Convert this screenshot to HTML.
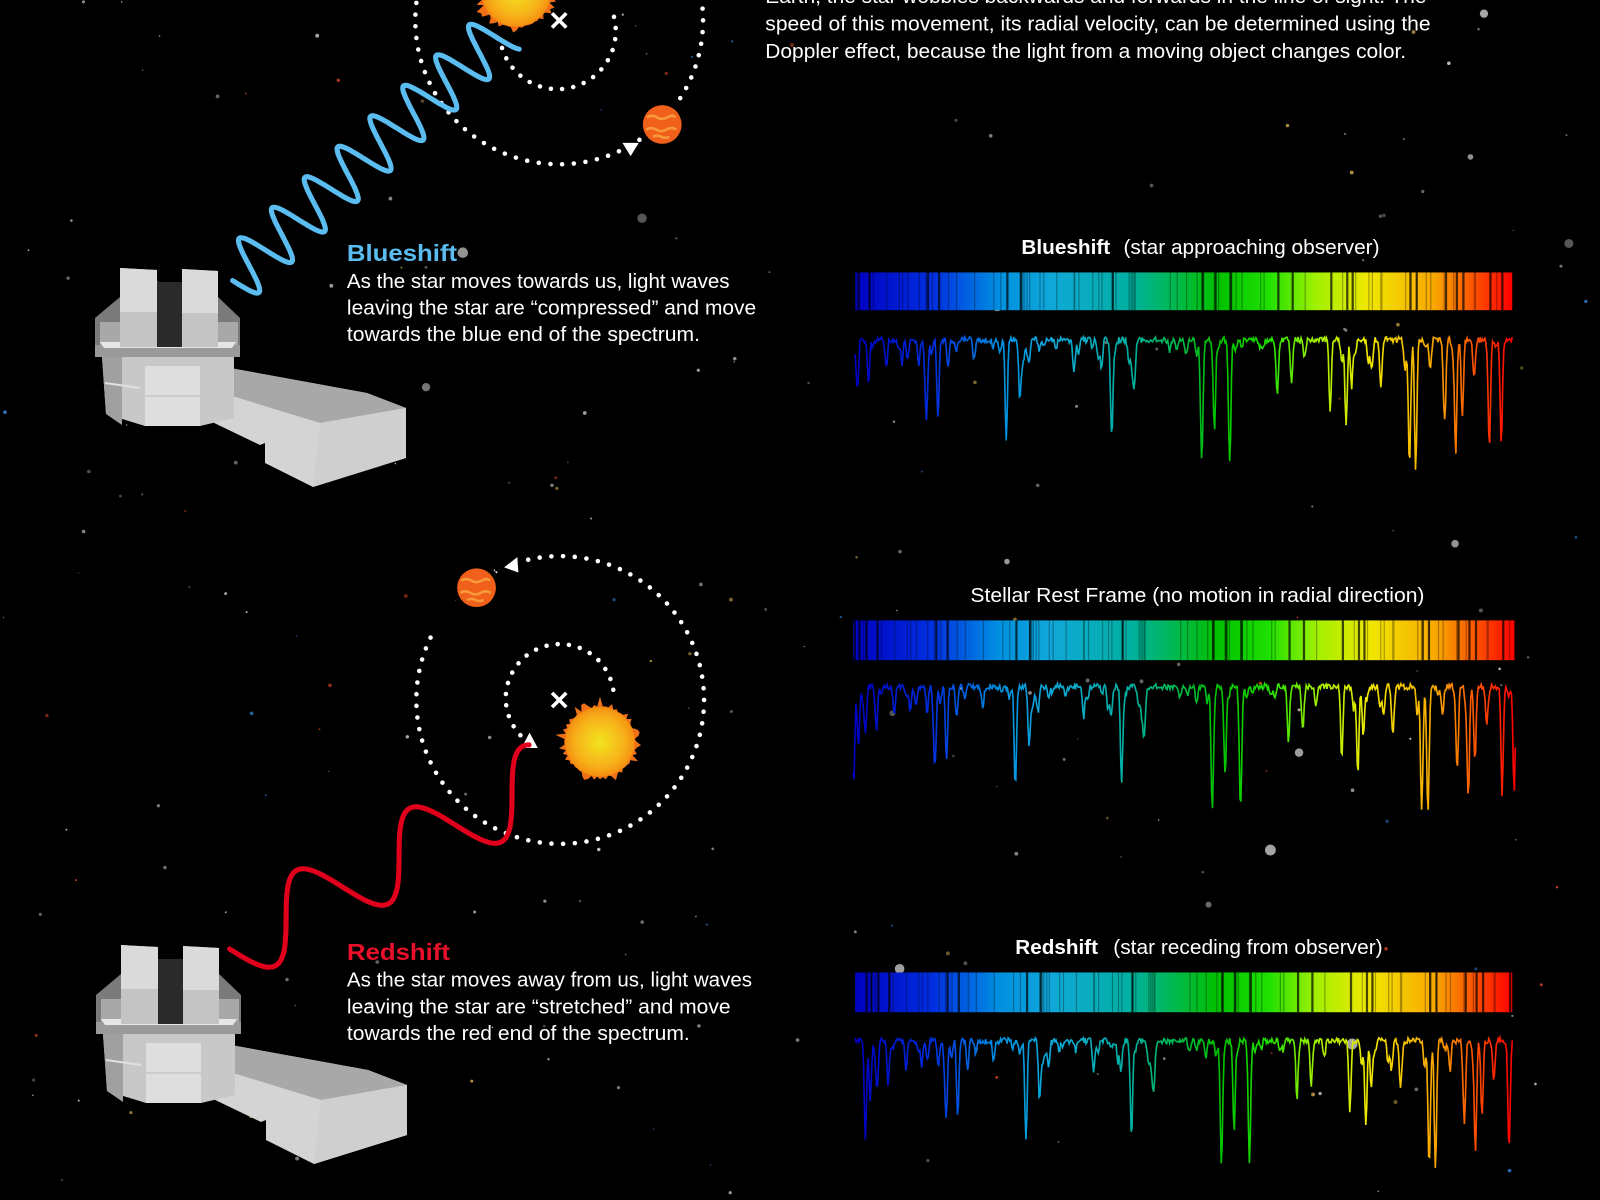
<!DOCTYPE html>
<html><head><meta charset="utf-8"><style>
html,body{margin:0;padding:0;background:#000;}
svg{display:block}
text{font-family:"Liberation Sans",sans-serif;fill:#fff}
</style></head><body>
<svg id="s" width="1600" height="1200" viewBox="0 0 1600 1200" xmlns="http://www.w3.org/2000/svg">
<defs>
<linearGradient id="spec" x1="0" x2="1" y1="0" y2="0">
<stop offset="0" stop-color="#0000c0"/><stop offset="0.12" stop-color="#0030e0"/><stop offset="0.22" stop-color="#0090e0"/><stop offset="0.3" stop-color="#10a8d8"/><stop offset="0.42" stop-color="#00b0a0"/><stop offset="0.55" stop-color="#00c000"/><stop offset="0.63" stop-color="#20e000"/><stop offset="0.7" stop-color="#a0f000"/><stop offset="0.78" stop-color="#f0e800"/><stop offset="0.88" stop-color="#f8a800"/><stop offset="1" stop-color="#ff0000"/>
</linearGradient>
<radialGradient id="sun" cx="0.5" cy="0.5" r="0.5">
<stop offset="0" stop-color="#f2e41e"/><stop offset="0.7" stop-color="#f7b21a"/><stop offset="1" stop-color="#f59010"/>
</radialGradient>
</defs>
<rect width="1600" height="1200" fill="#000"/>
<g id="stars"></g>
<g id="main" transform="scale(1.0204)">
<text font-size="20" textLength="648" lengthAdjust="spacingAndGlyphs" x="750" y="3">Earth, the star wobbles backwards and forwards in the line of sight. The</text>
<text font-size="20" textLength="652" lengthAdjust="spacingAndGlyphs" x="750" y="30">speed of this movement, its radial velocity, can be determined using the</text>
<text font-size="20" textLength="628" lengthAdjust="spacingAndGlyphs" x="750" y="57">Doppler effect, because the light from a moving object changes color.</text>

<circle cx="548" cy="20" r="141" fill="none" stroke="#fff" stroke-width="4.5" stroke-linecap="round" stroke-dasharray="0 11.5"/>
<path d="M492 47 A53 53 0 0 0 601 14" fill="none" stroke="#fff" stroke-width="4.5" stroke-linecap="round" stroke-dasharray="0 11"/>
<g id="sun1"></g>
<path d="M541 13 L555 27 M555 13 L541 27" stroke="#fff" stroke-width="3.5"/>
<circle cx="649" cy="122" r="23" fill="#000"/>
<polygon points="610,140 626,140 618,153" fill="#fff"/>
<circle cx="649" cy="122" r="19" fill="#f0601a"/>
<path d="M634 115 q5 -3 10 0 t10 0 t8 0 M633 127 q5 -3 10 0 t10 0 t10 0 M640 134 q4 -2 8 0 t8 0" stroke="#f79a3a" stroke-width="2.5" fill="none"/>
<path id="bwave" fill="none" stroke="#5bbcf0" stroke-width="5" stroke-linecap="round"/>

<text x="340" y="256" font-size="23" font-weight="bold" style="fill:#5bbcf0" textLength="108" lengthAdjust="spacingAndGlyphs">Blueshift</text>
<text x="340" y="282" font-size="19.5" textLength="375" lengthAdjust="spacingAndGlyphs">As the star moves towards us, light waves</text>
<text x="340" y="308" font-size="19.5" textLength="401" lengthAdjust="spacingAndGlyphs">leaving the star are “compressed” and move</text>
<text x="340" y="334" font-size="19.5" textLength="346" lengthAdjust="spacingAndGlyphs">towards the blue end of the spectrum.</text>

<circle cx="549" cy="686" r="141" fill="none" stroke="#fff" stroke-width="4.5" stroke-linecap="round" stroke-dasharray="0 11.5"/>
<path d="M601 676 A53 53 0 1 0 516 726" fill="none" stroke="#fff" stroke-width="4.5" stroke-linecap="round" stroke-dasharray="0 11"/>
<circle cx="467" cy="576" r="24" fill="#000"/>
<rect x="485" y="540" width="24" height="20" fill="#000"/>
<rect x="420" y="590" width="30" height="30" fill="#000"/>
<polygon points="494,556 507,546 508,561" fill="#fff"/>
<polygon points="511,733 527,733 519,718" fill="#fff"/>
<circle cx="467" cy="576" r="19" fill="#f0601a"/>
<path d="M452 569 q5 -3 10 0 t10 0 t8 0 M451 581 q5 -3 10 0 t10 0 t10 0 M458 588 q4 -2 8 0 t8 0" stroke="#f79a3a" stroke-width="2.5" fill="none"/>
<path d="M541 679 L555 693 M555 679 L541 693" stroke="#fff" stroke-width="3.5"/>
<g id="sun2"></g>
<path id="rwave" fill="none" stroke="#e0001b" stroke-width="5" stroke-linecap="round"/>

<text x="340" y="941" font-size="23" font-weight="bold" style="fill:#e8102a" textLength="101" lengthAdjust="spacingAndGlyphs">Redshift</text>
<text x="340" y="967" font-size="19.5" textLength="397" lengthAdjust="spacingAndGlyphs">As the star moves away from us, light waves</text>
<text x="340" y="993" font-size="19.5" textLength="376" lengthAdjust="spacingAndGlyphs">leaving the star are “stretched” and move</text>
<text x="340" y="1019" font-size="19.5" textLength="336" lengthAdjust="spacingAndGlyphs">towards the red end of the spectrum.</text>

<text x="1001" y="249" font-size="19.5" font-weight="bold" textLength="87" lengthAdjust="spacingAndGlyphs">Blueshift</text>
<text x="1101" y="249" font-size="19.5" textLength="251" lengthAdjust="spacingAndGlyphs">(star approaching observer)</text>
<text x="951" y="590" font-size="19.5" textLength="445" lengthAdjust="spacingAndGlyphs">Stellar Rest Frame  (no motion in radial direction)</text>
<text x="995" y="935" font-size="19.5" font-weight="bold" textLength="81" lengthAdjust="spacingAndGlyphs">Redshift</text>
<text x="1091" y="935" font-size="19.5" textLength="264" lengthAdjust="spacingAndGlyphs">(star receding from observer)</text>

<g id="spectra"></g>
</g>

<g id="obs1"></g>
<g id="obs2" transform="translate(1,677)"></g>
</svg>
<script>
var NS="http://www.w3.org/2000/svg";
function el(t,a,p){var e=document.createElementNS(NS,t);for(var k in a)e.setAttribute(k,a[k]);p.appendChild(e);return e;}
var seed=7;function rnd(){seed=(seed*16807)%2147483647;return seed/2147483647;}
var st=document.getElementById('stars');
var cols=['#bbb','#999','#ddd','#c04020','#3070c0','#b09040','#888','#aaa','#777'];
for(var i=0;i<240;i++){var big=rnd()<0.05;var r=big?2.5+rnd()*3:0.7+rnd()*1.3;var c=big?'#aaa':cols[Math.floor(rnd()*cols.length)];el('circle',{cx:rnd()*1600,cy:rnd()*1200,r:r,fill:c,opacity:0.5+rnd()*0.5},st);}
function sun(g,cx,cy,R){g=document.getElementById(g);var pts=[];for(var i=0;i<80;i++){var a=i/80*Math.PI*2;var rr=R+(i%2?1:5)*rnd()+ (rnd()<0.2?6:0);pts.push((cx+rr*Math.cos(a)).toFixed(1)+','+(cy+rr*Math.sin(a)).toFixed(1));}
el('polygon',{points:pts.join(' '),fill:'#f07018'},g);el('circle',{cx:cx,cy:cy,r:R,fill:'url(#sun)'},g);}
sun('sun1',506,-8,34);sun('sun2',588,727,34);
function wave(id,x0,y0,x1,y1,cyc,amp){var dx=x1-x0,dy=y1-y0,L=Math.hypot(dx,dy),ux=dx/L,uy=dy/L,nx=-uy,ny=ux,d='';for(var i=0;i<=400;i++){var t=i/400,s=Math.sin(t*cyc*2*Math.PI)*amp;var x=x0+dx*t+nx*s,y=y0+dy*t+ny*s;d+=(i?'L':'M')+x.toFixed(1)+' '+y.toFixed(1);}document.getElementById(id).setAttribute('d',d);}
wave('bwave',228,275,492,30,8.2,26);
wave('rwave',225,930,535,760,2.8,36);
var sp=document.getElementById('spectra');
var lines=[];seed=99;for(var i=0;i<90;i++){lines.push({p:rnd(),d:rnd()<0.25?40+rnd()*70:5+rnd()*25});}
function spectrum(bx0,bx1,by,bh,ly,shift){var W=bx1-bx0;
el('rect',{x:bx0,y:by,width:W,height:bh,fill:'url(#spec)'},sp);
lines.forEach(function(l){var x=bx0+(l.p+shift)*W;if(x<bx0||x>bx1)return;el('rect',{x:x,y:by,width:l.d>40?2.2:1.2,height:bh,fill:'#000',opacity:l.d>40?0.7:0.3},sp);});
var pts=[];var n=700;seed=5;for(var i=0;i<=n;i++){var t=i/n,x=bx0+t*W,y=ly+(rnd()-0.5)*6;lines.forEach(function(l){var c=l.p+shift;var dd=(t-c)*W;y+=l.d*Math.exp(-dd*dd/2.5);});pts.push(x.toFixed(1)+','+y.toFixed(1));}
el('polyline',{points:pts.join(' '),fill:'none',stroke:'url(#spec)','stroke-width':1.6},sp);}
spectrum(838,1482,267,37,333,-0.015);
spectrum(836,1485,608,39,673,0);
spectrum(838,1482,953,39,1020,0.015);
function obs(id){var g=document.getElementById(id);
function P(p,f){el('polygon',{points:p,fill:f},g);}
P('230,368 367,393 406,408 406,458 313,487 265,463 265,443 260,445 208,420 202,380','#d4d4d4');
P('230,368 367,393 406,408 320,423 203,387','#a8a8a8');
P('320,423 406,408 406,458 313,487','#cfcfcf');
P('102,357 234,357 234,418 200,426 145,426 106,414','#c8c8c8');
P('102,357 122,357 122,425 106,414','#a0a0a0');
P('145,366 200,366 200,426 145,426','#dedede');
el('line',{x1:145,y1:396,x2:200,y2:396,stroke:'#bbb','stroke-width':1},g);
el('line',{x1:105,y1:383,x2:140,y2:388,stroke:'#e0e0e0','stroke-width':2},g);
P('95,318 120,297 218,297 240,318 240,350 95,350','#7a7a7a');
P('100,322 120,322 120,345 100,345','#a8a8a8');
P('218,322 238,322 238,345 218,345','#a8a8a8');
P('95,345 240,345 240,357 95,357','#9a9a9a');
P('100,342 236,342 232,348 104,348','#e6e6e6');
P('157,282 182,282 182,347 157,347','#2a2a2a');
P('120,268 157,270 157,347 120,347','#c4c4c4');
P('120,268 157,270 157,312 120,312','#dadada');
P('182,269 218,271 218,347 182,347','#c4c4c4');
P('182,269 218,271 218,313 182,313','#dadada');
}
obs('obs1');obs('obs2');
</script>
</body></html>
